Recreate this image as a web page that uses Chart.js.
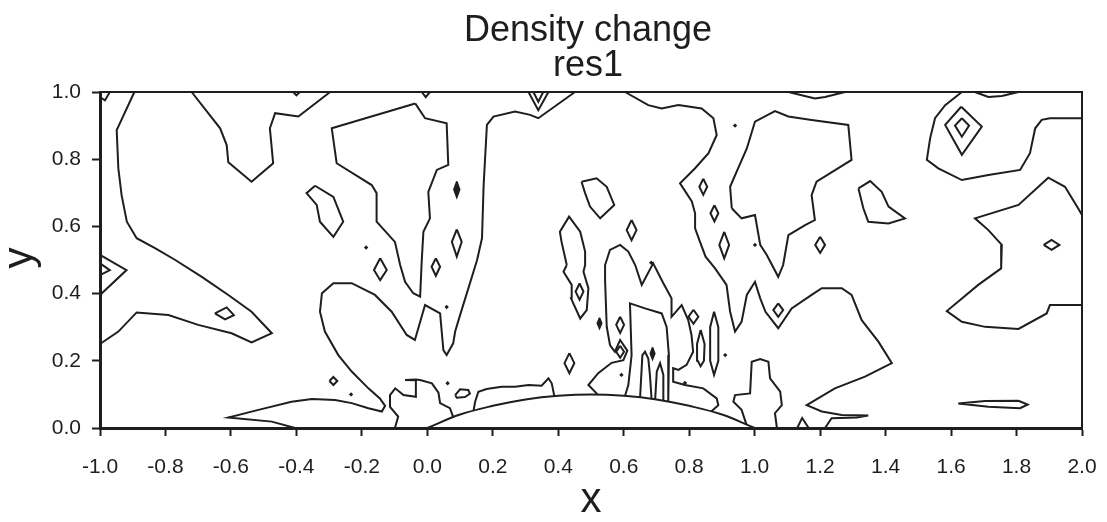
<!DOCTYPE html>
<html>
<head>
<meta charset="utf-8">
<title>Density change res1</title>
<script src="https://cdn.jsdelivr.net/npm/chart.js@4.4.0/dist/chart.umd.min.js"></script>
<style>
  html, body { margin: 0; padding: 0; background: #fff; }
  #wrap { width: 1107px; height: 522px; }
</style>
</head>
<body>
<div id="wrap"><canvas id="chart" width="1107" height="522"></canvas></div>
<script>
// axis ticks
const xTickValues = [-1.0, -0.8, -0.6, -0.4, -0.2, 0.0, 0.2, 0.4, 0.6, 0.8, 1.0, 1.2, 1.4, 1.6, 1.8, 2.0];
const xTickLabels = ['-1.0', '-0.8', '-0.6', '-0.4', '-0.2', '0.0', '0.2', '0.4', '0.6', '0.8', '1.0', '1.2', '1.4', '1.6', '1.8', '2.0'];
const yTickValues = [0.0, 0.2, 0.4, 0.6, 0.8, 1.0];
const yTickLabels = ['0.0', '0.2', '0.4', '0.6', '0.8', '1.0'];

// body outline (hemisphere on the floor)
const hemisphere = [[0, 0], [0.1, 0.04], [0.2, 0.066], [0.3, 0.085], [0.4, 0.096], [0.5, 0.1],
  [0.6, 0.096], [0.7, 0.085], [0.8, 0.066], [0.9, 0.04], [1.0, 0.0]];

// contour lines, [x, y]
const cLeft = [[-0.895, 1.0], [-0.944, 0.897], [-0.949, 0.887], [-0.944, 0.773], [-0.934, 0.693], [-0.918, 0.614],
  [-0.888, 0.565], [-0.832, 0.535], [-0.77, 0.5], [-0.689, 0.45], [-0.608, 0.396], [-0.537, 0.346], [-0.475, 0.282],
  [-0.537, 0.255], [-0.598, 0.282], [-0.7, 0.307], [-0.791, 0.336], [-0.888, 0.344], [-0.944, 0.287], [-1.0, 0.25]];
const cLeftWedge = [[-1.0, 0.515], [-0.919, 0.47], [-1.0, 0.396]];
const cLeftWedgeIn = [[-1.0, 0.49], [-0.97, 0.47], [-1.0, 0.455]];
const cCorner = [[-1.0, 0.985], [-0.985, 0.975], [-0.97, 1.0]];
const cB = [[-0.72, 1.0], [-0.633, 0.892], [-0.613, 0.842], [-0.608, 0.791], [-0.537, 0.733], [-0.471, 0.788],
  [-0.481, 0.892], [-0.465, 0.937], [-0.394, 0.927], [-0.297, 1.0]];
const cTopBump = [[-0.41, 1.0], [-0.4, 0.99], [-0.39, 1.0]];
const cC = [[-0.037, 0.966], [-0.292, 0.892], [-0.277, 0.788], [-0.17, 0.723], [-0.155, 0.699], [-0.155, 0.614],
  [-0.099, 0.554], [-0.083, 0.485], [-0.068, 0.435], [-0.043, 0.401], [-0.022, 0.391], [-0.017, 0.5],
  [-0.012, 0.584], [0.008, 0.624], [0.003, 0.703], [0.029, 0.768], [0.064, 0.783], [0.059, 0.907],
  [-0.007, 0.922], [-0.037, 0.966]];
const cIsle1 = [[-0.343, 0.721], [-0.287, 0.688], [-0.257, 0.614], [-0.287, 0.569], [-0.328, 0.614],
  [-0.338, 0.664], [-0.369, 0.699], [-0.343, 0.721]];
const cDE = [[0.451, 1.0], [0.339, 0.922], [0.314, 0.932], [0.268, 0.942], [0.202, 0.927], [0.182, 0.902],
  [0.172, 0.723], [0.167, 0.565], [0.152, 0.5], [0.141, 0.465], [0.1, 0.336], [0.085, 0.287], [0.079, 0.252],
  [0.059, 0.217], [0.049, 0.232], [0.039, 0.341], [-0.007, 0.366], [-0.038, 0.262], [-0.063, 0.277],
  [-0.109, 0.346], [-0.16, 0.396], [-0.231, 0.431], [-0.287, 0.431], [-0.322, 0.401], [-0.328, 0.346],
  [-0.313, 0.287], [-0.272, 0.217], [-0.231, 0.168], [-0.18, 0.118], [-0.145, 0.088], [-0.129, 0.066],
  [-0.139, 0.049], [-0.18, 0.059], [-0.231, 0.074], [-0.282, 0.083], [-0.353, 0.086], [-0.415, 0.078],
  [-0.516, 0.054], [-0.608, 0.031], [-0.475, 0.019], [-0.404, 0.0]];
const cTopV1 = [[0.309, 1.0], [0.339, 0.946], [0.37, 1.0]];
const cTopV2 = [[0.324, 1.0], [0.339, 0.971], [0.354, 1.0]];
const cTopV3 = [[-0.017, 1.0], [-0.005, 0.985], [0.008, 1.0]];
const cT = [[-0.099, 0.0], [-0.089, 0.034], [-0.114, 0.063], [-0.114, 0.098], [-0.098, 0.118], [-0.073, 0.098],
  [-0.035, 0.093], [-0.035, 0.142], [-0.068, 0.143], [-0.035, 0.144], [-0.022, 0.143], [0.014, 0.133],
  [0.034, 0.105], [0.039, 0.074], [0.069, 0.059], [0.08, 0.03]];
const cS = [[0.141, 0.05], [0.146, 0.078], [0.156, 0.108], [0.181, 0.116], [0.227, 0.123], [0.268, 0.123],
  [0.309, 0.128], [0.349, 0.126], [0.37, 0.148], [0.38, 0.133], [0.388, 0.095]];
const cEllipse = [[0.085, 0.098], [0.1, 0.115], [0.125, 0.113], [0.13, 0.102], [0.115, 0.092], [0.09, 0.09], [0.085, 0.098]];
const cQ = [[0.471, 0.733], [0.517, 0.743], [0.548, 0.718], [0.571, 0.664], [0.528, 0.624], [0.497, 0.659],
  [0.482, 0.699], [0.471, 0.733]];
const cR = [[0.426, 0.485], [0.41, 0.554], [0.405, 0.584], [0.433, 0.629], [0.467, 0.584], [0.482, 0.525],
  [0.482, 0.485], [0.477, 0.465], [0.492, 0.416], [0.487, 0.351], [0.467, 0.326], [0.439, 0.386],
  [0.441, 0.426], [0.416, 0.465], [0.426, 0.485]];
const cF = [[0.52, 0.1], [0.492, 0.128], [0.522, 0.163], [0.563, 0.194], [0.599, 0.202], [0.611, 0.23],
  [0.589, 0.262], [0.573, 0.227], [0.558, 0.247], [0.548, 0.302], [0.543, 0.44], [0.543, 0.485], [0.558, 0.53],
  [0.589, 0.545], [0.614, 0.525], [0.635, 0.485], [0.655, 0.426], [0.69, 0.49], [0.721, 0.431], [0.746, 0.386],
  [0.746, 0.331], [0.777, 0.366], [0.797, 0.321], [0.807, 0.277], [0.812, 0.227], [0.792, 0.188],
  [0.767, 0.173], [0.751, 0.178], [0.751, 0.138], [0.787, 0.128], [0.843, 0.118], [0.884, 0.088],
  [0.889, 0.068], [0.868, 0.05]];
const cG = [[0.604, 0.096], [0.614, 0.128], [0.624, 0.217], [0.619, 0.371], [0.665, 0.356], [0.716, 0.341],
  [0.731, 0.301], [0.738, 0.217], [0.736, 0.078]];
const cFinger1 = [[0.65, 0.091], [0.657, 0.217], [0.665, 0.227], [0.675, 0.207], [0.68, 0.158], [0.685, 0.087]];
const cFinger2 = [[0.696, 0.085], [0.701, 0.168], [0.711, 0.193], [0.721, 0.158], [0.721, 0.081]];
const cTall1 = [[0.835, 0.292], [0.847, 0.25], [0.845, 0.2], [0.835, 0.184], [0.826, 0.2], [0.824, 0.25], [0.835, 0.292]];
const cTall2 = [[0.876, 0.346], [0.889, 0.3], [0.889, 0.2], [0.876, 0.158], [0.864, 0.2], [0.864, 0.3], [0.876, 0.346]];
const cH = [[0.604, 1.0], [0.675, 0.961], [0.716, 0.951], [0.767, 0.961], [0.838, 0.951], [0.874, 0.922],
  [0.884, 0.872], [0.859, 0.818], [0.818, 0.773], [0.772, 0.728], [0.808, 0.674], [0.818, 0.639],
  [0.818, 0.594], [0.833, 0.554], [0.85, 0.51], [0.879, 0.475], [0.914, 0.426], [0.925, 0.346], [0.94, 0.287],
  [0.96, 0.316], [0.976, 0.396], [1.001, 0.435], [1.017, 0.386], [1.033, 0.346], [1.072, 0.297],
  [1.113, 0.356], [1.174, 0.396], [1.205, 0.416], [1.266, 0.416], [1.296, 0.396], [1.327, 0.321],
  [1.378, 0.257], [1.419, 0.193], [1.337, 0.153], [1.245, 0.118], [1.159, 0.068], [1.205, 0.049],
  [1.266, 0.039], [1.347, 0.037], [1.312, 0.031], [1.235, 0.029], [1.215, 0.0]];
const cJ = [[0.975, 0.01], [0.96, 0.054], [0.935, 0.078], [0.94, 0.098], [0.986, 0.103], [0.991, 0.197],
  [1.017, 0.205], [1.042, 0.197], [1.047, 0.148], [1.078, 0.108], [1.083, 0.068], [1.062, 0.044], [1.068, 0.0]];
const cSmallWedge = [[1.13, 0.0], [1.145, 0.03], [1.165, 0.0]];
const cM = [[0.93, 0.654], [0.925, 0.718], [0.945, 0.763], [0.976, 0.832], [1.001, 0.912], [1.062, 0.943],
  [1.103, 0.927], [1.174, 0.917], [1.286, 0.902], [1.296, 0.798], [1.189, 0.733], [1.174, 0.693],
  [1.184, 0.619], [1.154, 0.604], [1.103, 0.574], [1.087, 0.485], [1.072, 0.45], [1.037, 0.515],
  [1.017, 0.545], [1.001, 0.634], [0.96, 0.624], [0.93, 0.654]];
const cTopDip1 = [[1.103, 1.0], [1.184, 0.981], [1.215, 0.985], [1.276, 1.0]];
const cTopDip2 = [[1.673, 1.0], [1.714, 0.985], [1.755, 0.988], [1.806, 1.0]];
const cN = [[1.317, 0.713], [1.353, 0.735], [1.388, 0.703], [1.409, 0.659], [1.459, 0.624], [1.409, 0.609],
  [1.347, 0.614], [1.332, 0.654], [1.317, 0.713]];
const cL = [[1.633, 1.0], [1.582, 0.961], [1.551, 0.922], [1.536, 0.862], [1.526, 0.798], [1.561, 0.773],
  [1.633, 0.738], [1.714, 0.753], [1.811, 0.768], [1.841, 0.818], [1.857, 0.892], [1.877, 0.917],
  [1.902, 0.922], [2.0, 0.922]];
const cK = [[2.0, 0.634], [1.988, 0.654], [1.948, 0.718], [1.897, 0.745], [1.806, 0.664], [1.673, 0.624],
  [1.714, 0.589], [1.755, 0.545], [1.753, 0.475], [1.683, 0.426], [1.587, 0.348], [1.633, 0.316],
  [1.704, 0.301], [1.806, 0.295], [1.892, 0.341], [1.902, 0.366], [2.0, 0.366]];
const cP = [[1.622, 0.073], [1.704, 0.08], [1.806, 0.081], [1.834, 0.07], [1.811, 0.059], [1.714, 0.063], [1.622, 0.073]];

// small closed diamonds
const dm1 = [[-0.144, 0.505], [-0.124, 0.47], [-0.144, 0.44], [-0.163, 0.47], [-0.144, 0.505]];
const dm2 = [[-0.649, 0.341], [-0.613, 0.359], [-0.591, 0.336], [-0.618, 0.323], [-0.649, 0.341]];
const dm3 = [[-0.299, 0.14], [-0.287, 0.152], [-0.275, 0.14], [-0.287, 0.128], [-0.299, 0.14]];
const dm4 = [[0.026, 0.505], [0.039, 0.48], [0.026, 0.453], [0.013, 0.48], [0.026, 0.505]];
const dm5 = [[0.09, 0.591], [0.105, 0.554], [0.09, 0.51], [0.075, 0.554], [0.09, 0.591]];
const dm6 = [[0.465, 0.43], [0.477, 0.406], [0.465, 0.382], [0.453, 0.406], [0.465, 0.43]];
const dm7 = [[0.434, 0.223], [0.449, 0.193], [0.434, 0.163], [0.419, 0.193], [0.434, 0.223]];
const dm8 = [[0.589, 0.331], [0.601, 0.307], [0.589, 0.283], [0.577, 0.307], [0.589, 0.331]];
const dm9 = [[0.624, 0.619], [0.639, 0.589], [0.624, 0.559], [0.609, 0.589], [0.624, 0.619]];
const dm10 = [[0.843, 0.742], [0.855, 0.718], [0.843, 0.694], [0.831, 0.718], [0.843, 0.742]];
const dm11 = [[0.877, 0.663], [0.889, 0.639], [0.877, 0.615], [0.865, 0.639], [0.877, 0.663]];
const dm12 = [[0.907, 0.584], [0.922, 0.545], [0.907, 0.505], [0.892, 0.545], [0.907, 0.584]];
const dm13 = [[0.813, 0.352], [0.828, 0.331], [0.813, 0.31], [0.798, 0.331], [0.813, 0.352]];
const dm14 = [[1.072, 0.371], [1.087, 0.351], [1.072, 0.331], [1.057, 0.351], [1.072, 0.371]];
const dm15 = [[1.2, 0.569], [1.215, 0.545], [1.2, 0.521], [1.185, 0.545], [1.2, 0.569]];
const dm16 = [[1.883, 0.545], [1.907, 0.56], [1.931, 0.545], [1.907, 0.53], [1.883, 0.545]];
const dm17 = [[0.589, 0.245], [0.601, 0.227], [0.589, 0.209], [0.577, 0.227], [0.589, 0.245]];
const dmOuter = [[1.631, 0.956], [1.694, 0.897], [1.633, 0.813], [1.582, 0.902], [1.631, 0.956]];
const dmInner = [[1.633, 0.922], [1.655, 0.9], [1.633, 0.867], [1.612, 0.9], [1.633, 0.922]];

// filled lens marks
const fill1 = [[0.09, 0.734], [0.099, 0.71], [0.09, 0.686], [0.081, 0.71], [0.09, 0.734]];
const fill2 = [[0.688, 0.24], [0.695, 0.222], [0.688, 0.204], [0.681, 0.222], [0.688, 0.24]];
const fill3 = [[0.526, 0.328], [0.533, 0.312], [0.526, 0.296], [0.519, 0.312], [0.526, 0.328]];

// single dots
const dots = [[-0.187, 0.537], [-0.233, 0.1], [0.062, 0.133], [0.593, 0.158], [0.787, 0.134], [0.059, 0.36],
  [0.94, 0.9], [1.001, 0.545], [0.91, 0.217], [0.684, 0.492]];

const lineSets = [cLeft, cLeftWedge, cLeftWedgeIn, cCorner, cB, cTopBump, cC, cIsle1, cDE, cTopV1, cTopV2, cTopV3,
  cT, cS, cEllipse, cQ, cR, cF, cG, cFinger1, cFinger2, cTall1, cTall2, cH, cJ, cSmallWedge, cM, cTopDip1,
  cTopDip2, cN, cL, cK, cP, dm1, dm2, dm3, dm4, dm5, dm6, dm7, dm8, dm9, dm10, dm11, dm12, dm13, dm14, dm15,
  dm16, dm17, dmOuter, dmInner];
const filledSets = [fill1, fill2, fill3];

const INK = '#1e1e1e';
const toXY = arr => arr.map(([x, y]) => ({ x, y }));

const datasets = [];
lineSets.forEach(arr => datasets.push({
  data: toXY(arr), showLine: true, pointRadius: 0, borderColor: INK, borderWidth: 2,
  tension: 0, fill: false, clip: 4
}));
filledSets.forEach(arr => datasets.push({
  data: toXY(arr), showLine: true, pointRadius: 0, borderColor: INK, borderWidth: 1.5,
  backgroundColor: INK, tension: 0, fill: 'shape', clip: 4
}));
datasets.push({
  data: toXY(hemisphere), showLine: true, pointRadius: 0, borderColor: INK, borderWidth: 2,
  tension: 0.4, fill: false, clip: 4
});
datasets.push({
  data: toXY(dots), showLine: false, pointRadius: 2.2, pointStyle: 'rectRot',
  backgroundColor: INK, borderColor: INK, borderWidth: 0
});

// titles, axis names and the frame
const textPlugin = {
  id: 'texts',
  afterDraw(chart) {
    const ctx = chart.ctx;
    const a = chart.chartArea;
    const cx = (a.left + a.right) / 2;
    ctx.save();
    ctx.fillStyle = INK;
    ctx.textAlign = 'center';
    ctx.textBaseline = 'alphabetic';
    ctx.font = '36px "Liberation Sans", Arial, sans-serif';
    ctx.fillText('Density change', cx - 3, 41);
    ctx.fillText('res1', cx - 3, 76);
    ctx.font = '42px "Liberation Sans", Arial, sans-serif';
    ctx.fillText('x', cx, 512);
    ctx.translate(32, 258);
    ctx.rotate(-Math.PI / 2);
    ctx.fillText('y', 0, 0);
    ctx.restore();

    ctx.save();
    ctx.strokeStyle = INK;
    ctx.lineWidth = 2;
    ctx.strokeRect(a.left, a.top, a.right - a.left, a.bottom - a.top);
    ctx.restore();
  }
};

const tickFont = { family: '"Liberation Sans", Arial, sans-serif', size: 21 };

new Chart(document.getElementById('chart'), {
  type: 'scatter',
  data: { datasets },
  options: {
    responsive: false,
    animation: false,
    events: [],
    layout: { padding: { top: 92, right: 25, left: 0, bottom: 0 } },
    plugins: { legend: { display: false }, tooltip: { enabled: false }, title: { display: false } },
    scales: {
      x: {
        type: 'linear', min: -1, max: 2,
        afterBuildTicks: s => { s.ticks = xTickValues.map(v => ({ value: v })); },
        afterFit: s => { s.height = 94; s.paddingLeft = 0; s.paddingRight = 0; },
        ticks: {
          autoSkip: false, maxRotation: 0, padding: 19, color: INK, font: tickFont,
          callback: (v, i) => xTickLabels[i]
        },
        grid: { drawOnChartArea: false, drawTicks: true, tickLength: 8, tickWidth: 2, color: INK },
        border: { display: true, width: 3, color: INK }
      },
      y: {
        type: 'linear', min: 0, max: 1,
        afterBuildTicks: s => { s.ticks = yTickValues.map(v => ({ value: v })); },
        afterFit: s => { s.width = 100; s.paddingTop = 0; s.paddingBottom = 0; },
        ticks: {
          autoSkip: false, padding: 11, color: INK, font: tickFont,
          callback: (v, i) => yTickLabels[i]
        },
        grid: { drawOnChartArea: false, drawTicks: true, tickLength: 8, tickWidth: 2, color: INK },
        border: { display: true, width: 3, color: INK }
      }
    }
  },
  plugins: [textPlugin]
});
</script>
</body>
</html>
